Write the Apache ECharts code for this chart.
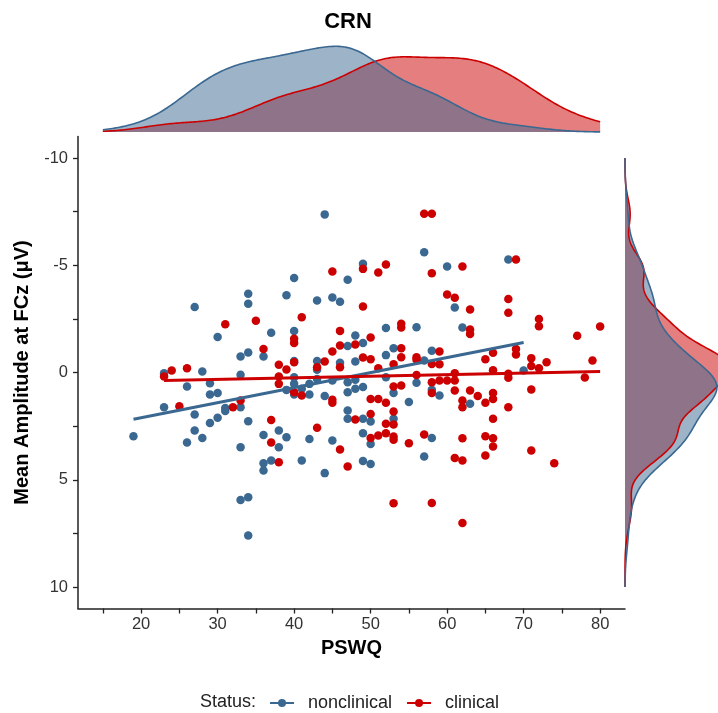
<!DOCTYPE html>
<html>
<head>
<meta charset="utf-8">
<script src="https://cdn.jsdelivr.net/npm/echarts@6/dist/echarts.min.js"></script>
<style>
  html, body { margin: 0; padding: 0; background: #fff; }
  #chart { width: 718px; height: 713px; }
</style>
</head>
<body>
<div id="chart"></div>
<script>
// PSWQ score vs. CRN mean amplitude at FCz, by status group
const groupNames = ['nonclinical', 'clinical'];
const groupColors = ['#3A6891', '#CC0000'];

const nonclinical = [
  [44, -7.37], [49, -5.07], [40, -4.4], [47, -4.32], [34, -3.67], [34, -3.2], [39, -3.6],
  [43, -3.36], [45, -3.5], [46, -3.3], [27, -3.05], [30, -1.65], [37, -1.85], [40, -1.93],
  [48, -1.72], [33, -0.75], [34, -0.93], [36, -0.75], [47, -1.23], [40, -0.54], [43, -0.54],
  [43, -0.13], [46, -0.45], [48, -0.51], [23, 0.03], [28, -0.05], [33, 0.11], [40, 0.22],
  [26, 0.65], [29, 0.5], [29, 1.03], [30, 0.96], [39, 0.81], [40, 0.53], [40, 1.03],
  [41, 0.76], [42, 1.03], [42, 0.53], [43, 0.3], [44, 1.09], [47, 0.45], [47, 0.92],
  [48, 0.76], [45, 0.37], [23, 1.62], [27, 1.96], [31, 1.65], [31, 1.8], [30, 2.11],
  [29, 2.35], [33, 1.62], [34, 2.27], [19, 2.97], [27, 2.7], [26, 3.26], [28, 3.05],
  [33, 3.48], [36, 2.91], [38, 2.7], [38, 3.48], [39, 3.02], [42, 3.1], [45, 3.17],
  [47, 1.77], [47, 2.16], [36, 4.23], [36, 4.57], [37, 4.1], [41, 4.1], [44, 4.69],
  [33, 5.94], [34, 5.81], [34, 7.6], [57, -5.61], [60, -4.94], [68, -5.27], [61, -3.03],
  [62, -2.1], [52, -2.07], [56, -2.11], [49, -1.37], [52, -0.81], [53, -1.13], [57, -0.56],
  [58, -1.01], [70, -0.09], [48, 0.34], [49, 0.68], [52, 0.22], [56, 0.48], [53, 0.96],
  [58, 0.81], [59, 1.07], [55, 1.38], [63, 1.46], [49, 2.16], [50, 2.28], [53, 2.16],
  [49, 2.83], [50, 3.33], [58, 3.05], [49, 4.13], [50, 4.27], [57, 3.92]
];

const clinical = [
  [45, -4.71], [49, -4.83], [49, -3.08], [41, -2.58], [35, -2.41], [31, -2.25], [40, -1.57],
  [40, -1.38], [46, -1.94], [36, -1.1], [45, -0.98], [46, -1.26], [48, -1.3], [49, -0.7],
  [38, -0.36], [39, -0.14], [40, -0.48], [43, -0.25], [44, -0.51], [46, -0.25], [23, 0.19],
  [24, -0.09], [26, -0.2], [38, 0.19], [38, 0.53], [40, 0.92], [41, 1.07], [45, 1.27],
  [45, 1.41], [25, 1.57], [32, 1.62], [33, 1.3], [37, 2.21], [37, 3.26], [43, 2.58],
  [46, 3.59], [48, 2.19], [47, 4.38], [38, 4.18], [57, -7.4], [58, -7.4], [58, -4.63],
  [51, -4.66], [52, -5.03], [62, -4.94], [69, -5.27], [60, -3.64], [61, -3.48], [63, -2.94],
  [68, -3.43], [68, -2.78], [63, -2.0], [63, -1.8], [72, -2.49], [72, -2.16], [80, -2.14],
  [77, -1.71], [54, -2.27], [54, -2.1], [50, -1.63], [54, -1.13], [54, -0.71], [50, -0.62],
  [56, -0.71], [56, -0.6], [59, -0.98], [58, -0.4], [59, -0.39], [53, -0.39], [51, -0.2],
  [65, -0.62], [66, -0.92], [69, -1.1], [69, -0.84], [71, -0.67], [71, -0.3], [72, -0.2],
  [73, -0.48], [79, -0.56], [66, -0.1], [61, 0.03], [56, 0.12], [68, 0.06], [78, 0.23],
  [68, 0.25], [61, 0.37], [60, 0.37], [59, 0.37], [58, 0.45], [58, 0.96], [54, 0.61],
  [53, 0.65], [50, 1.23], [51, 1.23], [52, 1.41], [61, 0.84], [63, 0.84], [64, 1.1],
  [62, 1.3], [62, 1.62], [65, 1.41], [66, 0.96], [66, 1.23], [68, 1.62], [71, 0.79],
  [50, 1.93], [52, 2.39], [53, 1.82], [53, 2.42], [50, 3.05], [51, 2.94], [52, 2.83],
  [53, 2.98], [53, 3.14], [55, 3.3], [57, 2.89], [62, 3.06], [65, 2.97], [66, 3.06],
  [66, 3.45], [66, 2.16], [61, 3.99], [62, 4.1], [65, 3.87], [71, 3.64], [74, 4.23],
  [53, 6.09], [58, 6.08], [62, 7.02]
];

// axis limits and breaks
const xLimits = [15, 80];
const yLimits = [-10, 10];
const xTickValues = [15, 20, 25, 30, 35, 40, 45, 50, 55, 60, 65, 70, 75, 80];
const xLabelValues = [20, 30, 40, 50, 60, 70, 80];
const yTickValues = [-10, -7.5, -5, -2.5, 0, 2.5, 5, 7.5, 10];
const yLabelValues = [-10, -5, 0, 5, 10];

const groups = [nonclinical, clinical];

// ---- helpers: linear fit and gaussian kernel density (bw.nrd0) ----
function linearFit(pts) {
  const n = pts.length;
  let sx = 0, sy = 0, sxx = 0, sxy = 0;
  pts.forEach(([x, y]) => { sx += x; sy += y; sxx += x * x; sxy += x * y; });
  const b = (n * sxy - sx * sy) / (n * sxx - sx * sx);
  const a = (sy - b * sx) / n;
  const xs = pts.map(p => p[0]);
  const x0 = Math.min(...xs), x1 = Math.max(...xs);
  return [[x0, a + b * x0], [x1, a + b * x1]];
}
function quantile(sorted, p) {
  const h = (sorted.length - 1) * p, lo = Math.floor(h);
  const hi = Math.min(lo + 1, sorted.length - 1);
  return sorted[lo] + (h - lo) * (sorted[hi] - sorted[lo]);
}
function bwNrd0(v) {
  const n = v.length;
  const m = v.reduce((s, a) => s + a, 0) / n;
  const sd = Math.sqrt(v.reduce((s, a) => s + (a - m) * (a - m), 0) / (n - 1));
  const s = v.slice().sort((a, b) => a - b);
  const iqr = quantile(s, 0.75) - quantile(s, 0.25);
  const lo = Math.min(sd, iqr / 1.34);
  return 0.9 * lo * Math.pow(n, -0.2);
}
function density(v, from, to, steps) {
  const bw = bwNrd0(v), n = v.length, c = 1 / (n * bw * Math.sqrt(2 * Math.PI));
  const out = [];
  for (let i = 0; i < steps; i++) {
    const x = from + (to - from) * i / (steps - 1);
    let d = 0;
    for (const a of v) { const z = (x - a) / bw; d += Math.exp(-0.5 * z * z); }
    out.push([x, d * c]);
  }
  return out;
}

const fits = groups.map(linearFit);
const xDens = groups.map(g => density(g.map(p => p[0]), xLimits[0], xLimits[1], 256));
const yDens = groups.map(g => density(g.map(p => p[1]), yLimits[0], yLimits[1], 256));
const xDensMax = Math.max(...xDens.flat().map(p => p[1]));
// right-hand margin is scaled to the nonclinical peak; the taller curve runs off the edge
const yDensRef = Math.max(...yDens[0].map(p => p[1]));

const xPad = (xLimits[1] - xLimits[0]) * 0.05;
const yPad = (yLimits[1] - yLimits[0]) * 0.05;

const FONT = 'Liberation Sans, Arial, sans-serif';
const axisInk = '#222';

// polygon (layer 1) or outline (layer 2) for one density curve;
// vertical=true puts the density along x (right-hand margin)
function densitySeries(curve, color, xi, yi, vertical, layer) {
  return {
    type: 'custom',
    coordinateSystem: 'cartesian2d',
    xAxisIndex: xi, yAxisIndex: yi,
    silent: true,
    z: layer,
    data: [[0, 0]],
    renderItem: function (params, api) {
      const pts = curve.map(([t, d]) => vertical ? api.coord([d, t]) : api.coord([t, d]));
      const first = curve[0][0], last = curve[curve.length - 1][0];
      const base = vertical
        ? [api.coord([0, last]), api.coord([0, first])]
        : [api.coord([last, 0]), api.coord([first, 0])];
      if (layer === 1) {
        return {
          type: 'polygon',
          shape: { points: pts.concat(base) },
          style: { fill: color, opacity: 0.5 }
        };
      }
      return {
        type: 'polyline',
        shape: { points: pts },
        style: { stroke: color, lineWidth: 1.6, fill: null }
      };
    }
  };
}

const chart = echarts.init(document.getElementById('chart'), null, { renderer: 'canvas' });

const option = {
  animation: false,
  backgroundColor: '#fff',
  textStyle: { fontFamily: FONT },
  title: {
    text: 'CRN',
    left: 343, top: 6, textAlign: 'center',
    textStyle: { fontFamily: FONT, fontSize: 22, fontWeight: 'bold', color: '#000' }
  },
  legend: {
    data: groupNames,
    left: 264, top: 689,
    itemWidth: 24, itemHeight: 10, itemGap: 14,
    textStyle: { fontFamily: FONT, fontSize: 18, color: '#222', padding: [0, 0, 0, 9] },
    selectedMode: false
  },
  graphic: [{
    type: 'text', left: 200, top: 693,
    style: { text: 'Status:', fontFamily: FONT, fontSize: 18, fill: '#222' }
  }],
  grid: [
    { left: 78, top: 136.5, width: 547, height: 472 },
    { left: 78, top: 42, width: 547, height: 90 },
    { left: 625, top: 136.5, width: 93, height: 472 }
  ],
  xAxis: [
    {
      gridIndex: 0, type: 'value', min: xLimits[0] - xPad, max: xLimits[1] + xPad,
      name: 'PSWQ', nameLocation: 'middle', nameGap: 30,
      nameTextStyle: { fontFamily: FONT, fontSize: 20, fontWeight: 'bold', color: '#000' },
      axisLine: { show: true, onZero: false, lineStyle: { color: axisInk, width: 1.5 } },
      axisTick: { show: true, length: 5, customValues: xTickValues, lineStyle: { color: axisInk, width: 1.3 } },
      axisLabel: { customValues: xLabelValues, fontSize: 16.5, color: '#333', margin: 7 },
      splitLine: { show: false }
    },
    {
      gridIndex: 1, type: 'value', min: xLimits[0] - xPad, max: xLimits[1] + xPad,
      show: false
    },
    {
      gridIndex: 2, type: 'value', min: 0, max: yDensRef * 1.012, show: false
    }
  ],
  yAxis: [
    {
      gridIndex: 0, type: 'value', inverse: true, min: yLimits[0] - yPad, max: yLimits[1] + yPad,
      name: 'Mean Amplitude at FCz (\u03BCV)', nameLocation: 'middle', nameGap: 46,
      nameTextStyle: { fontFamily: FONT, fontSize: 20, fontWeight: 'bold', color: '#000' },
      axisLine: { show: true, onZero: false, lineStyle: { color: axisInk, width: 1.5 } },
      axisTick: { show: true, length: 5, customValues: yTickValues, lineStyle: { color: axisInk, width: 1.3 } },
      axisLabel: { customValues: yLabelValues, fontSize: 16.5, color: '#333', margin: 10 },
      splitLine: { show: false }
    },
    {
      gridIndex: 1, type: 'value', min: 0, max: xDensMax * 1.05, show: false
    },
    {
      gridIndex: 2, type: 'value', inverse: true, min: yLimits[0] - yPad, max: yLimits[1] + yPad,
      show: false
    }
  ],
  series: []
};

// scatter points
groups.forEach((g, i) => {
  option.series.push({
    name: groupNames[i] + ' points',
    type: 'scatter',
    xAxisIndex: 0, yAxisIndex: 0,
    data: g,
    symbolSize: 8.5,
    itemStyle: { color: groupColors[i], opacity: 1 },
    z: 2
  });
});
// fitted lines (also carry the legend icons)
groups.forEach((g, i) => {
  option.series.push({
    name: groupNames[i],
    type: 'line',
    xAxisIndex: 0, yAxisIndex: 0,
    data: fits[i],
    showSymbol: false,
    symbol: 'circle', symbolSize: 7,
    itemStyle: { color: groupColors[i] },
    lineStyle: { color: groupColors[i], width: 3 },
    z: 3
  });
});
// marginal densities: fills first, outlines on top
[1, 2].forEach(layer => {
  [1, 0].forEach(i => {
    option.series.push(densitySeries(xDens[i], groupColors[i], 1, 1, false, layer));
    option.series.push(densitySeries(yDens[i], groupColors[i], 2, 2, true, layer));
  });
});

chart.setOption(option);
</script>
</body>
</html>
